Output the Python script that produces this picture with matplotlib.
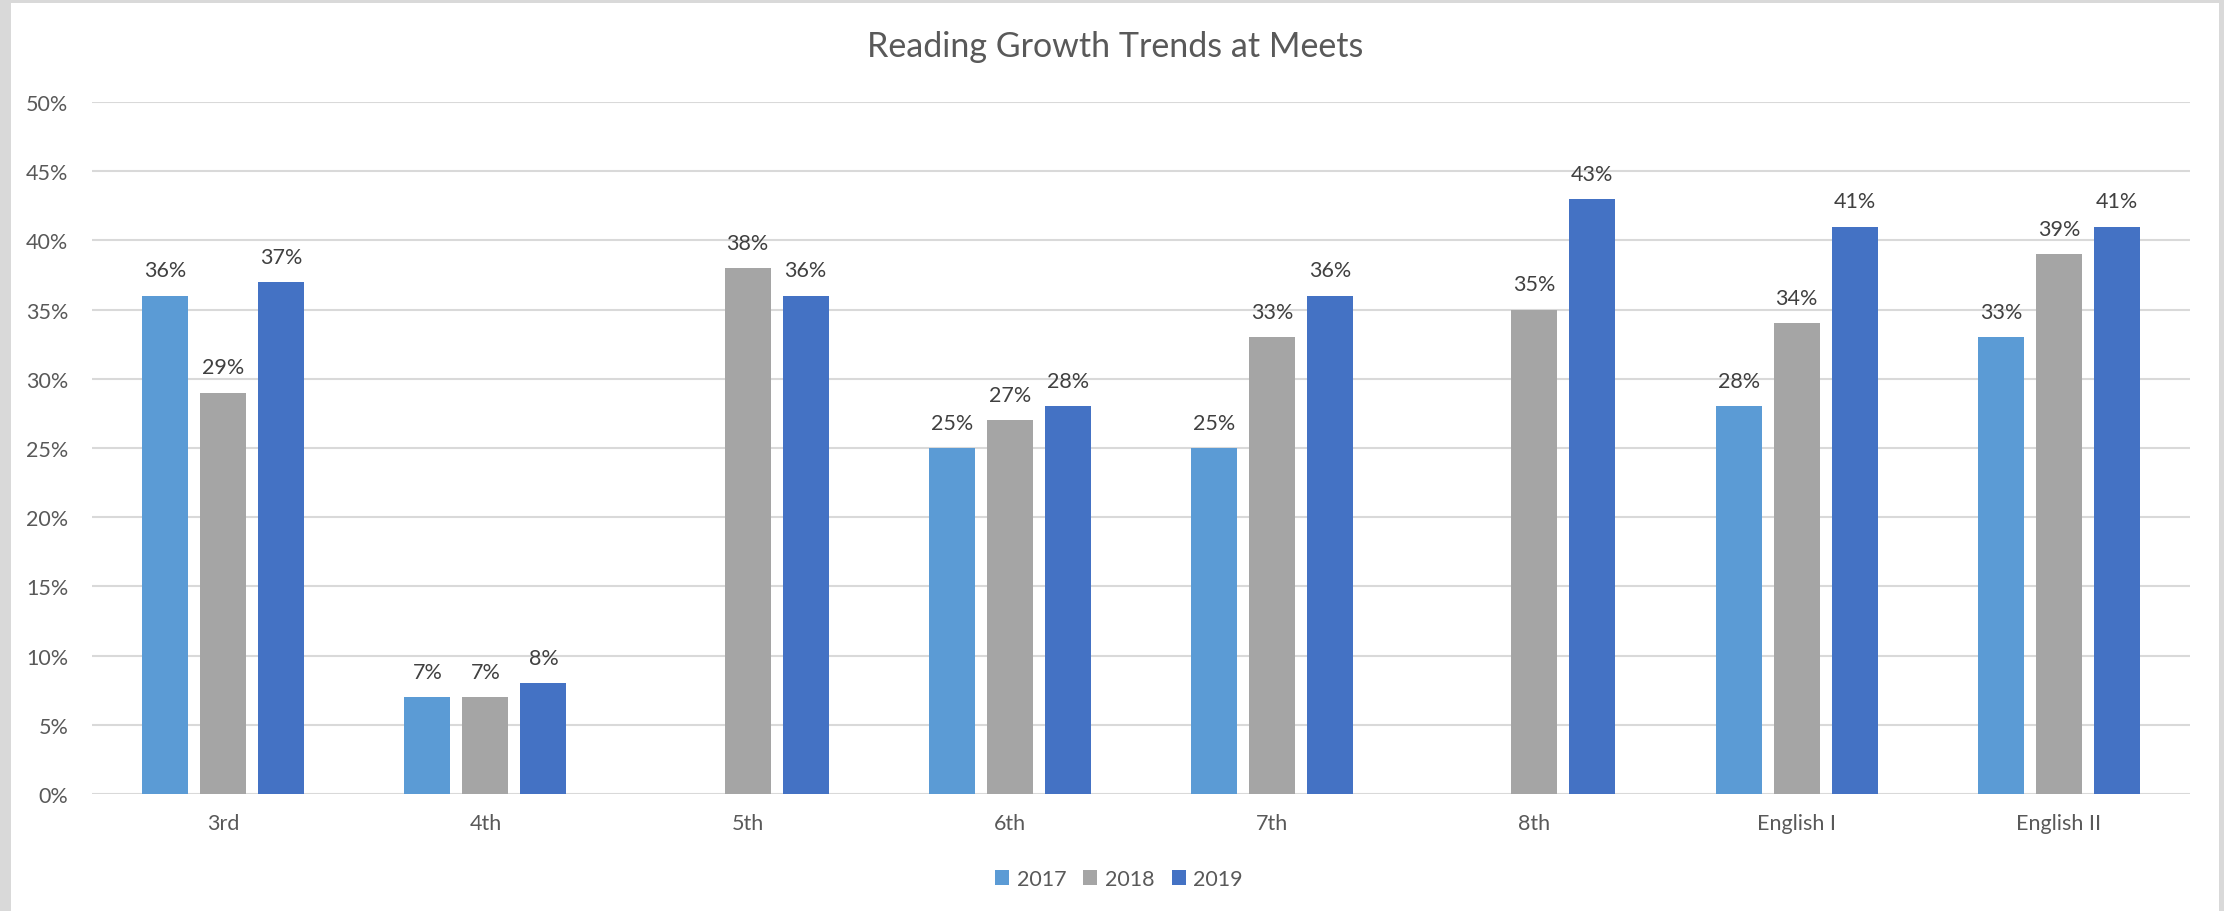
import matplotlib
matplotlib.use("Agg")
import matplotlib.pyplot as plt
from matplotlib.patches import Rectangle
import numpy as np

categories = ["3rd", "4th", "5th", "6th", "7th", "8th", "English I", "English II"]
years = ["2017", "2018", "2019"]
v2017 = [36, 7, None, 25, 25, None, 28, 33]
v2018 = [29, 7, 38, 27, 33, 35, 34, 39]
v2019 = [37, 8, 36, 28, 36, 43, 41, 41]
yticks = [0, 5, 10, 15, 20, 25, 30, 35, 40, 45, 50]
colors = ["#5B9BD5", "#A5A5A5", "#4472C4"]
title = "Reading Growth Trends at Meets"

plt.rcParams['font.family'] = ['Lato', 'DejaVu Sans']

W, H = 2224, 912
fig = plt.figure(figsize=(W / 100, H / 100), dpi=100)
fig.patch.set_facecolor("#D9D9D9")
fig.patches.append(Rectangle((11 / W, 0), (2219 - 11) / W, (H - 4) / H,
                             transform=fig.transFigure, facecolor="white",
                             edgecolor="none", zorder=-10))

ax = fig.add_axes([92 / W, 1 - 795 / H, (2190 - 92) / W, (795 - 103) / H])
ax.set_facecolor("none")

x = np.arange(len(categories))
bw = 46 / 262
step = 58 / 262
series = [v2017, v2018, v2019]
for i, (vals, c, yr) in enumerate(zip(series, colors, years)):
    xs = [xi + (i - 1) * step for xi, v in zip(x, vals) if v is not None]
    hs = [v for v in vals if v is not None]
    ax.bar(xs, hs, width=bw, color=c, label=yr, zorder=3)
    for xx, hh in zip(xs, hs):
        ax.annotate(f"{hh}%", (xx, hh), xytext=(0, 11), textcoords="offset points",
                    ha="center", va="bottom", fontsize=15.5, color="#404040")

ax.set_xlim(-0.5, len(categories) - 0.5)
ax.set_ylim(0, 50)
ax.set_yticks(yticks)
ax.set_yticklabels([f"{t}%" for t in yticks])
ax.set_xticks(x)
ax.set_xticklabels(categories)
ax.tick_params(axis="both", length=0, labelsize=15.5, labelcolor="#595959")
ax.tick_params(axis="y", pad=17)
ax.tick_params(axis="x", pad=14)
ax.grid(axis="y", color="#D9D9D9", linewidth=1.5, zorder=0)
for s in ax.spines.values():
    s.set_visible(False)

fig.text(1115 / W, 1 - 47 / H, title, ha="center", va="center",
         fontsize=24.5, color="#595959")

leg = fig.legend(loc="center", bbox_to_anchor=(1119 / W, 1 - 880 / H), ncol=3,
                 frameon=False, fontsize=15.5, handlelength=0.65, handleheight=0.65,
                 handletextpad=0.35, columnspacing=0.8)
for t in leg.get_texts():
    t.set_color("#595959")

fig.savefig("out.png", dpi=100, facecolor=fig.get_facecolor())
